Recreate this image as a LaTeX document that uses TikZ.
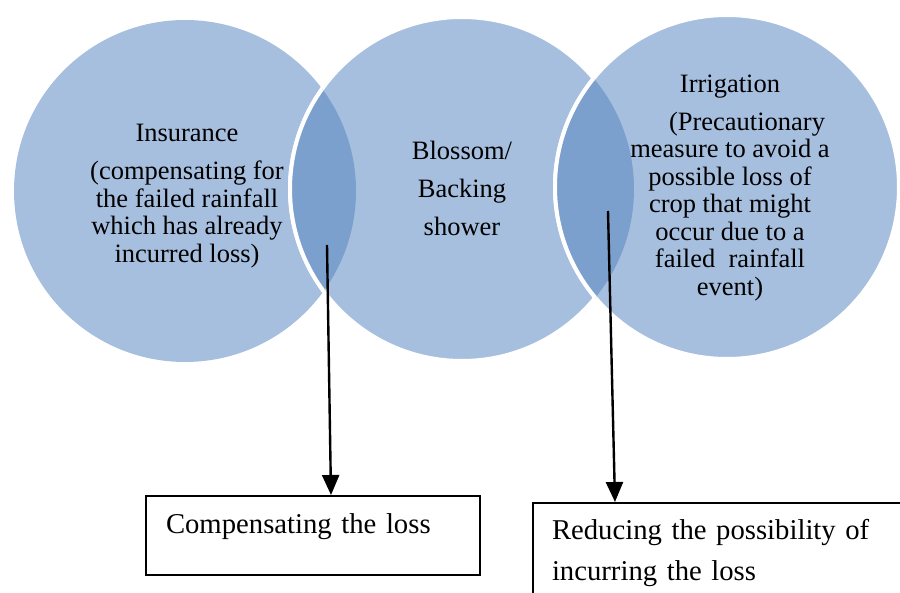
\documentclass[tikz,border=0pt]{standalone}
\usepackage{fontspec}
\setmainfont{Liberation Serif}
\usetikzlibrary{arrows.meta}
\definecolor{venn}{HTML}{A7BFDE}
\definecolor{lens}{HTML}{7BA0CD}
\tikzset{
  bubble/.style={fill=venn, draw=white, line width=2pt},
  rim/.style={draw=white, line width=2pt},
  ctext/.style={align=center, inner sep=0pt, font=\fontsize{13.25}{13.75}\selectfont},
  outbox/.style={draw=black, line width=1pt, align=left, inner ysep=0pt,
    anchor=north west, font=\fontsize{14.35}{20.5}\selectfont},
  arr/.style={-{Triangle[length=10pt,width=8.5pt]}, line width=1.2pt},
}
\begin{document}
\begin{tikzpicture}[x=0.5pt,y=0.5pt]
  \useasboundingbox (0,0) rectangle (900,-593);
  \clip (0,0) rectangle (900,-593);
  \coordinate (cL) at (185,-191); % insurance
  \coordinate (cM) at (462,-189); % blossom shower
  \coordinate (cR) at (727,-187); % irrigation

  \fill[venn] (cL) circle (171);
  \path[bubble] (cM) circle (172);
  \path[bubble] (cR) circle (172);

  % overlaps
  \begin{scope}
    \clip (cL) circle (171);
    \fill[lens] (cM) circle (172);
    \path[rim] (cM) circle (172);
  \end{scope}
  \begin{scope}
    \clip (cM) circle (172);
    \fill[lens] (cR) circle (172);
    \path[rim] (cR) circle (172);
  \end{scope}

  \node[ctext] (ins) at (187,-196) {Insurance\\[5.25pt](compensating for\\the failed rainfall\\which has already\\incurred loss)};
  \node[ctext, font=\fontsize{13.25}{19}\selectfont] (blo) at (462,-188) {Blossom/\\Backing\\shower};
  \node[ctext] (irr) at (730,-188) {Irrigation\\[5.25pt]\hspace*{17pt}(Precautionary\\measure to avoid a\\possible loss of\\crop that might\\occur due to a\\failed\ \ rainfall\\event)};

  \node[outbox, text width=147pt, inner xsep=10pt, text height=18.5pt, text depth=21pt] (cmp) at (145,-495) {Compensating the loss};
  \node[outbox, text width=200pt, inner xsep=9.5pt, text height=18pt, text depth=60pt] (red) at (532,-502) {Reducing the possibility of\\incurring the loss};

  \coordinate (dropL) at (327,-245);
  \coordinate (dropR) at (608,-211);
  \draw[arr] (dropL) -- ([xshift=9pt]cmp.north);
  \draw[arr] (dropR) -- ([xshift=41.5pt]red.north west);
\end{tikzpicture}
\end{document}
